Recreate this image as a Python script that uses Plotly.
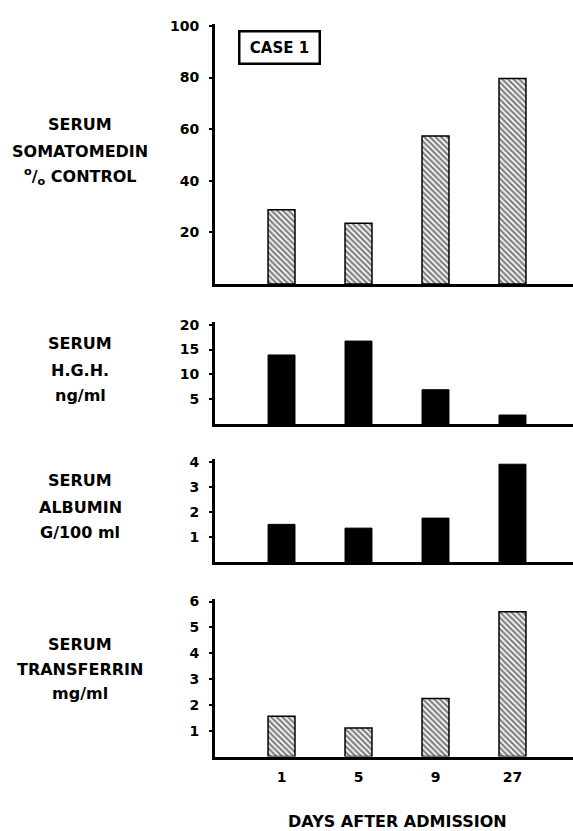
import plotly.graph_objects as go

days = ["1", "5", "9", "27"]
somatomedin = [28.8, 23.5, 57.3, 79.6]
hgh = [13.9, 16.7, 6.9, 1.8]
albumin = [1.5, 1.35, 1.75, 3.9]
transferrin = [1.56, 1.1, 2.25, 5.6]

somatomedin_ticks = [20, 40, 60, 80, 100]
hgh_ticks = [5, 10, 15, 20]
albumin_ticks = [1, 2, 3, 4]
transferrin_ticks = [1, 2, 3, 4, 5, 6]

W, H = 573, 831
FONT = "DejaVu Sans, sans-serif"
AXIS_X = 215

def fy(px):
    return 1 - px / H

def fx(px):
    return px / W

panels = [
    # (values, ticks, range_top, top_px, bottom_px, hatched, labels, label_ys)
    (somatomedin, somatomedin_ticks, 100.8, 18, 280, True,
     ["SERUM", "SOMATOMEDIN", "<sup>o</sup>/<sub>o</sub> CONTROL"], [119, 147, 172]),
    (hgh, hgh_ticks, 20.6, 318, 421, False,
     ["SERUM", "H.G.H.", "ng/ml"], [340, 367, 392]),
    (albumin, albumin_ticks, 4.12, 456, 560, False,
     ["SERUM", "ALBUMIN", "G/100 ml"], [478, 505, 530]),
    (transferrin, transferrin_ticks, 6.11, 597, 756, True,
     ["SERUM", "TRANSFERRIN", "mg/ml"], [643, 668, 693]),
]

fig = go.Figure()
annotations = []
layout = {}
for i, (vals, ticks, top, tpx, bpx, hatched, labels, lys) in enumerate(panels, start=1):
    xa = "x" if i == 1 else f"x{i}"
    ya = "y" if i == 1 else f"y{i}"
    if hatched:
        marker = dict(color="white",
                      line=dict(color="black", width=1.5),
                      pattern=dict(shape="\\", fgcolor="black", bgcolor="white",
                                   size=4, solidity=0.55))
    else:
        marker = dict(color="black", line=dict(color="black", width=1))
    fig.add_trace(go.Bar(x=days, y=vals, xaxis=xa, yaxis=ya, width=0.35,
                         marker=marker, showlegend=False, hoverinfo="x+y"))
    xkey = "xaxis" if i == 1 else f"xaxis{i}"
    ykey = "yaxis" if i == 1 else f"yaxis{i}"
    last = (i == 4)
    layout[xkey] = dict(
        domain=[fx(AXIS_X), 1], anchor=ya, range=[-0.864, 3.786], type="category",
        showline=True, linecolor="black", linewidth=3,
        showticklabels=last, ticks="", showgrid=False, zeroline=False,
        tickfont=dict(family=FONT, size=14, color="black", weight="bold"),
        ticklabelstandoff=6,
    )
    layout[ykey] = dict(
        domain=[fy(bpx), fy(tpx)], anchor=xa, range=[0, top],
        tickvals=ticks, ticktext=[str(t) for t in ticks],
        showline=True, linecolor="black", linewidth=3,
        ticks="outside", ticklen=3, tickwidth=2, tickcolor="black",
        showgrid=False, zeroline=False,
        tickfont=dict(family=FONT, size=14, color="black", weight="bold"),
        ticklabelstandoff=7,
    )
    for txt, ly in zip(labels, lys):
        annotations.append(dict(
            text=txt, x=fx(80), y=fy(ly), xref="paper", yref="paper",
            xanchor="center", yanchor="middle", showarrow=False,
            font=dict(family=FONT, size=16, color="black", weight="bold")))

annotations.append(dict(
    text="CASE 1", x=fx(279.5), y=fy(42), xref="paper", yref="paper",
    xanchor="center", yanchor="middle", showarrow=False,
    width=70, height=22, align="center", valign="middle",
    bordercolor="black", borderwidth=2.5, borderpad=4, bgcolor="white",
    font=dict(family=FONT, size=15, color="black", weight="bold")))
annotations.append(dict(
    text="DAYS AFTER ADMISSION", x=fx(397), y=fy(821), xref="paper", yref="paper",
    xanchor="center", yanchor="middle", showarrow=False,
    font=dict(family=FONT, size=16, color="black", weight="bold")))

fig.update_layout(
    width=W, height=H,
    margin=dict(l=0, r=0, t=0, b=0),
    paper_bgcolor="white", plot_bgcolor="white",
    annotations=annotations,
    **layout,
)

fig.write_html("out.html", config={"displayModeBar": False},
               post_script="document.body.style.margin='0';")
